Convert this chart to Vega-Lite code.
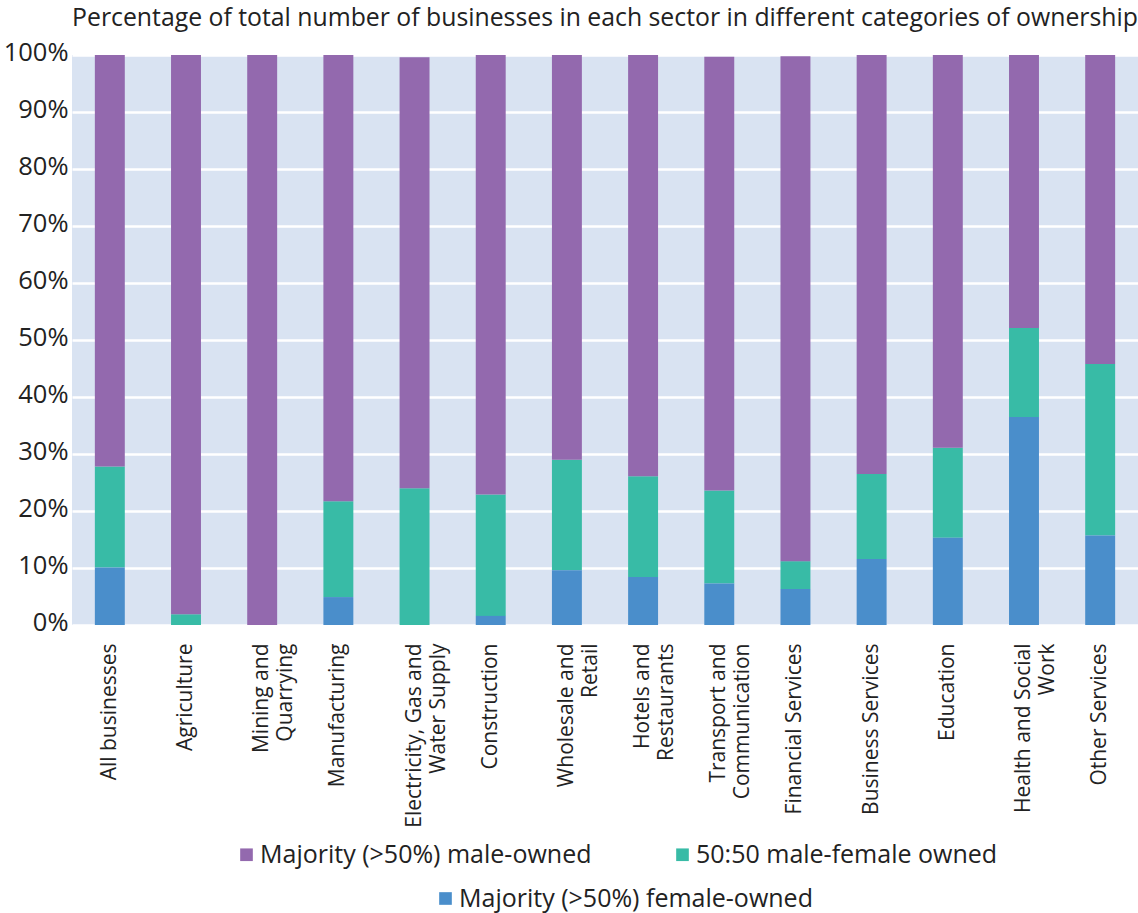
{
  "$schema": "https://vega.github.io/schema/vega-lite/v6.json",
  "width": 1066,
  "height": 570,
  "autosize": {"type": "none"},
  "padding": {"left": 72, "top": 55, "right": 0, "bottom": 288},
  "background": "white",
  "title": {
    "text": "Percentage of total number of businesses in each sector in different categories of ownership",
    "anchor": "middle",
    "baseline": "bottom",
    "offset": 12,
    "dy": 28,
    "fontSize": 24.8,
    "font": "Open Sans",
    "fontWeight": "normal",
    "color": "#222222"
  },
  "config": {
    "view": {"fill": "#D9E3F2", "stroke": null},
    "font": "Open Sans"
  },
  "data": {
    "values": [
      {"sector": "All businesses", "ownership": "Majority (>50%) female-owned", "value": 10.1},
      {"sector": "All businesses", "ownership": "50:50 male-female owned", "value": 17.7},
      {"sector": "All businesses", "ownership": "Majority (>50%) male-owned", "value": 72.2},
      {"sector": "Agriculture", "ownership": "Majority (>50%) female-owned", "value": 0},
      {"sector": "Agriculture", "ownership": "50:50 male-female owned", "value": 1.9},
      {"sector": "Agriculture", "ownership": "Majority (>50%) male-owned", "value": 98.1},
      {"sector": "Mining and|Quarrying", "ownership": "Majority (>50%) female-owned", "value": 0},
      {"sector": "Mining and|Quarrying", "ownership": "50:50 male-female owned", "value": 0},
      {"sector": "Mining and|Quarrying", "ownership": "Majority (>50%) male-owned", "value": 100},
      {"sector": "Manufacturing", "ownership": "Majority (>50%) female-owned", "value": 4.9},
      {"sector": "Manufacturing", "ownership": "50:50 male-female owned", "value": 16.8},
      {"sector": "Manufacturing", "ownership": "Majority (>50%) male-owned", "value": 78.3},
      {"sector": "Electricity, Gas and|Water Supply", "ownership": "Majority (>50%) female-owned", "value": 0},
      {"sector": "Electricity, Gas and|Water Supply", "ownership": "50:50 male-female owned", "value": 24.0},
      {"sector": "Electricity, Gas and|Water Supply", "ownership": "Majority (>50%) male-owned", "value": 75.6},
      {"sector": "Construction", "ownership": "Majority (>50%) female-owned", "value": 1.6},
      {"sector": "Construction", "ownership": "50:50 male-female owned", "value": 21.3},
      {"sector": "Construction", "ownership": "Majority (>50%) male-owned", "value": 77.1},
      {"sector": "Wholesale and|Retail", "ownership": "Majority (>50%) female-owned", "value": 9.6},
      {"sector": "Wholesale and|Retail", "ownership": "50:50 male-female owned", "value": 19.4},
      {"sector": "Wholesale and|Retail", "ownership": "Majority (>50%) male-owned", "value": 71.0},
      {"sector": "Hotels and|Restaurants", "ownership": "Majority (>50%) female-owned", "value": 8.4},
      {"sector": "Hotels and|Restaurants", "ownership": "50:50 male-female owned", "value": 17.7},
      {"sector": "Hotels and|Restaurants", "ownership": "Majority (>50%) male-owned", "value": 73.9},
      {"sector": "Transport and|Communication", "ownership": "Majority (>50%) female-owned", "value": 7.3},
      {"sector": "Transport and|Communication", "ownership": "50:50 male-female owned", "value": 16.3},
      {"sector": "Transport and|Communication", "ownership": "Majority (>50%) male-owned", "value": 76.1},
      {"sector": "Financial Services", "ownership": "Majority (>50%) female-owned", "value": 6.3},
      {"sector": "Financial Services", "ownership": "50:50 male-female owned", "value": 4.9},
      {"sector": "Financial Services", "ownership": "Majority (>50%) male-owned", "value": 88.6},
      {"sector": "Business Services", "ownership": "Majority (>50%) female-owned", "value": 11.6},
      {"sector": "Business Services", "ownership": "50:50 male-female owned", "value": 14.9},
      {"sector": "Business Services", "ownership": "Majority (>50%) male-owned", "value": 73.5},
      {"sector": "Education", "ownership": "Majority (>50%) female-owned", "value": 15.3},
      {"sector": "Education", "ownership": "50:50 male-female owned", "value": 15.8},
      {"sector": "Education", "ownership": "Majority (>50%) male-owned", "value": 68.9},
      {"sector": "Health and Social|Work", "ownership": "Majority (>50%) female-owned", "value": 36.5},
      {"sector": "Health and Social|Work", "ownership": "50:50 male-female owned", "value": 15.6},
      {"sector": "Health and Social|Work", "ownership": "Majority (>50%) male-owned", "value": 47.9},
      {"sector": "Other Services", "ownership": "Majority (>50%) female-owned", "value": 15.7},
      {"sector": "Other Services", "ownership": "50:50 male-female owned", "value": 30.1},
      {"sector": "Other Services", "ownership": "Majority (>50%) male-owned", "value": 54.2}
    ]
  },
  "transform": [
    {"calculate": "indexof(['Majority (>50%) female-owned', '50:50 male-female owned', 'Majority (>50%) male-owned'], datum.ownership)", "as": "stackorder"},
    {"stack": "value", "groupby": ["sector"], "sort": [{"field": "stackorder", "order": "ascending"}], "as": ["v0", "v1"]}
  ],
  "encoding": {
    "x": {
      "field": "sector",
      "type": "nominal",
      "sort": null,
      "scale": {"paddingInner": 0.607, "paddingOuter": 0.3},
      "axis": {
        "title": null,
        "domain": false,
        "ticks": false,
        "labelAngle": -90,
        "labelAlign": "right",
        "labelBaseline": "middle",
        "labelExpr": "split(datum.label, '|')",
        "labelFontSize": 21,
        "labelLineHeight": 24,
        "labelColor": "#222222",
        "labelPadding": 18,
        "labelLimit": 300
      }
    },
    "y": {
      "field": "v1",
      "type": "quantitative",
      "scale": {"domain": [0, 100], "nice": false},
      "axis": {
        "title": null,
        "values": [0, 10, 20, 30, 40, 50, 60, 70, 80, 90, 100],
        "labelExpr": "datum.value + '%'",
        "domain": false,
        "ticks": false,
        "labelFontSize": 25.5,
        "labelColor": "#222222",
        "labelPadding": 4,
        "labelOffset": -3,
        "gridColor": "white",
        "gridWidth": 2.5,
        "gridOpacity": 1
      }
    },
    "y2": {"field": "v0"}
  },
  "layer": [
    {
      "transform": [{"filter": "datum.ownership != 'Majority (>50%) female-owned'"}],
      "mark": {"type": "bar"},
      "encoding": {
        "color": {
          "field": "ownership",
          "type": "nominal",
          "scale": {
            "domain": ["Majority (>50%) male-owned", "50:50 male-female owned"],
            "range": ["#9369AE", "#38BBA6"]
          },
          "legend": {
            "title": null,
            "orient": "none",
            "legendX": 162,
            "legendY": 787,
            "direction": "horizontal",
            "columnPadding": 78,
            "symbolType": "square",
            "symbolSize": 160,
            "symbolStrokeWidth": 0,
            "labelOffset": 1,
            "labelFontSize": 25,
            "labelColor": "#222222",
            "labelLimit": 500
          }
        }
      }
    },
    {
      "transform": [{"filter": "datum.ownership == 'Majority (>50%) female-owned'"}],
      "mark": {"type": "bar"},
      "encoding": {
        "fill": {
          "field": "ownership",
          "type": "nominal",
          "scale": {
            "domain": ["Majority (>50%) female-owned"],
            "range": ["#4A8ECB"]
          },
          "legend": {
            "title": null,
            "orient": "none",
            "legendX": 361,
            "legendY": 831,
            "direction": "horizontal",
            "symbolType": "square",
            "symbolSize": 160,
            "symbolStrokeWidth": 0,
            "labelOffset": 1,
            "labelFontSize": 25,
            "labelColor": "#222222",
            "labelLimit": 500
          }
        }
      }
    }
  ]
}
